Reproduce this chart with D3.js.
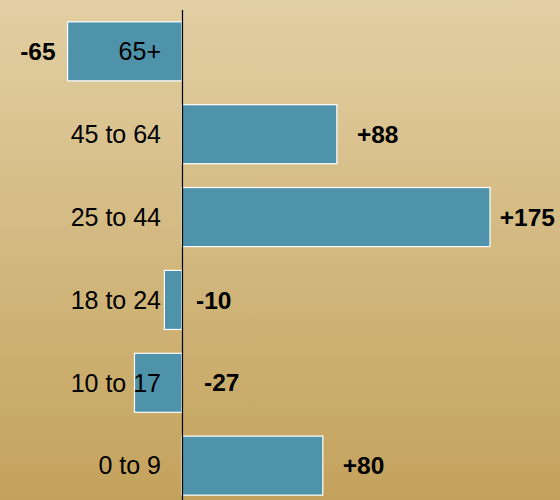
<!DOCTYPE html>
<html><head><meta charset="utf-8">
<script src="https://cdn.jsdelivr.net/npm/d3@7"></script>
<style>html,body{margin:0;padding:0;overflow:hidden;}svg{display:block;}</style>
</head><body>
<script>
const categories = ["65+", "45 to 64", "25 to 44", "18 to 24", "10 to 17", "0 to 9"];
const values = [-65, 88, 175, -10, -27, 80];
const valueLabels = ["-65", "+88", "+175", "-10", "-27", "+80"];

const W = 560, H = 500;
const svg = d3.select("body").append("svg").attr("width", W).attr("height", H);
const defs = svg.append("defs");
const grad = defs.append("linearGradient").attr("id","bg").attr("x1",0).attr("y1",0).attr("x2",0).attr("y2",1);
grad.append("stop").attr("offset","0%").attr("stop-color","#e2cfa3");
grad.append("stop").attr("offset","100%").attr("stop-color","#c3a25c");
svg.append("rect").attr("width",W).attr("height",H).attr("fill","url(#bg)");

const x = d3.scaleLinear().domain([0,175]).range([182,490]);
const y = d3.scaleBand().domain(categories).range([-2,519]).padding(0.2874);
const x0 = x(0);

svg.selectAll("rect.bar").data(categories).enter().append("rect")
  .attr("class","bar")
  .attr("x",(d,i)=>Math.min(x(values[i]),x0))
  .attr("y",d=>y(d))
  .attr("width",(d,i)=>Math.abs(x(values[i])-x0))
  .attr("height",y.bandwidth())
  .attr("fill","#4f93ab")
  .attr("stroke","#ffffff")
  .attr("stroke-width",1.2);

svg.append("line").attr("x1",x0+0.5).attr("x2",x0+0.5).attr("y1",10).attr("y2",H)
  .attr("stroke","#000").attr("stroke-width",1.2);

const font = "'Liberation Sans', Arial, sans-serif";
svg.selectAll("text.cat").data(categories).enter().append("text")
  .attr("class","cat")
  .attr("x",x0-21)
  .attr("y",d=>y(d)+y.bandwidth()/2)
  .attr("dy","0.35em")
  .attr("text-anchor","end")
  .attr("font-family",font).attr("font-size",25)
  .attr("fill","#000")
  .text(d=>d);

// label nudges for small negative values (placed right of axis)
const negNudge = {"18 to 24": 14, "10 to 17": 22};
svg.selectAll("text.val").data(categories).enter().append("text")
  .attr("class","val")
  .attr("y",d=>y(d)+y.bandwidth()/2)
  .attr("dy","0.35em")
  .attr("font-family",font).attr("font-size",24.5).attr("font-weight","bold")
  .attr("fill","#000")
  .each(function(d,i){
    const v = values[i];
    const t = d3.select(this).text(valueLabels[i]);
    if (v >= 0) {
      const w = this.getComputedTextLength();
      const xs = Math.min(x(v)+20, 555 - w);
      t.attr("x", xs).attr("text-anchor","start");
    } else if (negNudge[d] !== undefined) {
      t.attr("x", x0 + negNudge[d]).attr("text-anchor","start");
    } else {
      t.attr("x", x(v) - 12).attr("text-anchor","end");
    }
  });
</script>
</body></html>
